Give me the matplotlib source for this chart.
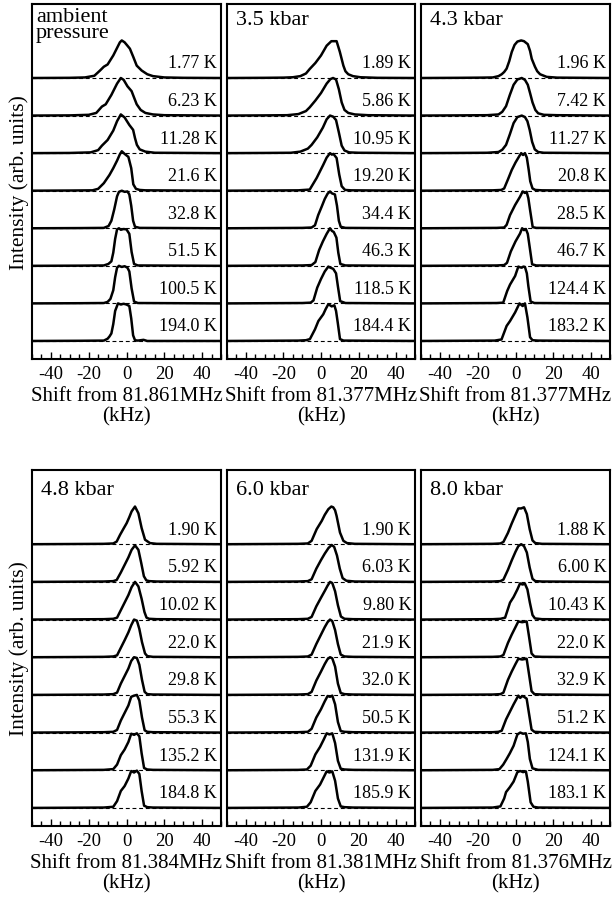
import matplotlib
matplotlib.use("Agg")
import matplotlib.pyplot as plt
from matplotlib.ticker import MultipleLocator

plt.rcParams['font.family'] = ['Liberation Serif', 'DejaVu Serif']
plt.rcParams['axes.unicode_minus'] = False

# ---------------- data (shift in kHz, intensity normalised to the stack spacing) -------------
AMB_TITLE = "ambient\npressure"
AMB_XLABEL = "Shift from 81.861MHz\n(kHz)"
AMB_TEMPS = ["1.77 K", "6.23 K", "11.28 K", "21.6 K", "32.8 K", "51.5 K", "100.5 K", "194.0 K"]
AMB_SHIFT = [
    [-50, -30, -22, -17, -14, -12, -10, -7, -5, -3.5, -2.5, -1, 0.5, 1.8, 3.6, 5.4, 8, 11, 14, 20, 30, 50],
    [-50, -30, -20, -16, -13, -11, -8, -5, -3, -1.5, 0.5, 2.7, 4, 5.4, 7.5, 10, 14, 20, 50],
    [-50, -30, -19, -15, -13, -10, -7, -5, -3, -1, 1.5, 3.5, 4.5, 5.5, 7, 10, 15, 50],
    [-50, -30, -18, -15, -12, -9, -7, -5, -3.5, -2.5, -1, 1, 2.5, 3.6, 5, 7, 10, 50],
    [-50, -25, -12, -9.5, -8, -6.5, -5, -4, -2.5, -1, 0.5, 1.5, 2.5, 3.5, 4.5, 7, 50],
    [-50, -25, -12, -9.6, -8, -7, -6, -5, -4, -3, -1.5, 0, 1.5, 2.7, 4, 6, 50],
    [-50, -25, -12, -10, -8.5, -7, -6, -5, -4, -2.5, -1, 0.5, 1.5, 2.7, 4, 6, 50],
    [-50, -25, -12, -10, -9, -8, -7, -6, -4.5, -3, -1.5, 0, 1.5, 2.5, 3.5, 4.5, 6, 9, 11, 50],
]
AMB_INT = [
    [0, 0.005, 0.015, 0.06, 0.2, 0.3, 0.36, 0.6, 0.8, 0.95, 1.0, 0.95, 0.86, 0.78, 0.56, 0.33, 0.2, 0.1, 0.05, 0.015, 0.005, 0],
    [0, 0.005, 0.02, 0.07, 0.24, 0.3, 0.55, 0.85, 1.0, 0.95, 0.78, 0.65, 0.48, 0.3, 0.15, 0.07, 0.03, 0.01, 0],
    [0, 0.005, 0.02, 0.08, 0.2, 0.35, 0.6, 0.85, 1.03, 0.95, 0.75, 0.62, 0.4, 0.22, 0.1, 0.04, 0.01, 0],
    [0, 0.005, 0.01, 0.05, 0.2, 0.42, 0.6, 0.8, 0.97, 1.05, 0.98, 0.9, 0.6, 0.17, 0.05, 0.02, 0.01, 0],
    [0, 0.005, 0.01, 0.06, 0.2, 0.5, 0.85, 0.97, 1.0, 0.97, 0.98, 0.9, 0.6, 0.2, 0.04, 0.01, 0],
    [0, 0.005, 0.01, 0.05, 0.12, 0.35, 0.72, 0.97, 1.0, 0.96, 0.98, 0.97, 0.85, 0.37, 0.05, 0.01, 0],
    [0, 0.005, 0.01, 0.04, 0.12, 0.35, 0.7, 0.95, 1.0, 0.97, 0.99, 0.95, 0.85, 0.4, 0.05, 0.01, 0],
    [0, 0.005, 0.01, 0.06, 0.12, 0.2, 0.45, 0.8, 1.0, 0.97, 0.99, 0.97, 0.93, 0.6, 0.15, 0.02, 0.01, 0.03, 0.0, 0],
]

P35_TITLE = "3.5 kbar"
P35_XLABEL = "Shift from 81.377MHz\n(kHz)"
P35_TEMPS = ["1.89 K", "5.86 K", "10.95 K", "19.20 K", "34.4 K", "46.3 K", "118.5 K", "184.4 K"]
P35_SHIFT = [
    [-50, -30, -20, -15, -11, -8, -6, -3, 0, 3, 5.5, 8.3, 10, 11.9, 13, 14.5, 17, 21, 30, 50],
    [-50, -30, -18, -12, -8, -6, -3, 0, 3, 5, 6.4, 8, 9.5, 11, 12.5, 14.5, 18, 25, 50],
    [-50, -30, -16, -11, -7, -5, -2, 1, 3, 4.8, 6.5, 8, 9.5, 11, 12.5, 15, 20, 50],
    [-50, -30, -12, -6, -2.3, 1.2, 3, 4.8, 5.8, 6.6, 8.3, 9.7, 11, 12.8, 16, 50],
    [-50, -30, -10, -5, -3.2, -1.5, 0.4, 2, 3.5, 4.8, 5.8, 7.4, 8.5, 9.5, 10.5, 13, 50],
    [-50, -30, -10, -5, -3, -1, 1, 3, 4.8, 5.8, 6.8, 8.2, 9.2, 10.3, 13, 50],
    [-50, -30, -10, -5.5, -4, -2, 0, 2, 3.9, 5, 6.5, 8, 9, 10.2, 13, 50],
    [-50, -30, -12, -8, -5.9, -3.2, -1.4, 1.2, 2.5, 3.9, 5.7, 7.1, 8, 8.9, 10.1, 12, 50],
]
P35_INT = [
    [0, 0.005, 0.01, 0.02, 0.05, 0.12, 0.24, 0.4, 0.6, 0.86, 0.98, 0.98, 0.7, 0.33, 0.18, 0.1, 0.05, 0.02, 0.005, 0],
    [0, 0.005, 0.01, 0.04, 0.12, 0.22, 0.4, 0.6, 0.85, 0.97, 1.0, 0.96, 0.7, 0.35, 0.15, 0.07, 0.03, 0.01, 0],
    [0, 0.005, 0.01, 0.04, 0.12, 0.22, 0.42, 0.68, 0.9, 1.0, 0.97, 0.88, 0.55, 0.2, 0.07, 0.02, 0.01, 0],
    [0, 0.005, 0.01, 0.03, 0.34, 0.69, 0.88, 1.0, 0.96, 0.98, 0.87, 0.43, 0.12, 0.02, 0.01, 0],
    [0, 0.005, 0.01, 0.02, 0.08, 0.35, 0.58, 0.78, 0.92, 0.98, 0.93, 0.9, 0.6, 0.2, 0.04, 0.01, 0],
    [0, 0.005, 0.01, 0.02, 0.1, 0.42, 0.65, 0.85, 1.0, 0.93, 0.9, 0.75, 0.35, 0.05, 0.01, 0],
    [0, 0.005, 0.01, 0.02, 0.08, 0.42, 0.65, 0.85, 0.98, 0.95, 0.92, 0.8, 0.45, 0.06, 0.01, 0],
    [0, 0.005, 0.01, 0.02, 0.05, 0.31, 0.53, 0.71, 0.85, 0.98, 0.92, 0.95, 0.8, 0.49, 0.05, 0.01, 0],
]

P43_TITLE = "4.3 kbar"
P43_XLABEL = "Shift from 81.377MHz\n(kHz)"
P43_TEMPS = ["1.96 K", "7.42 K", "11.27 K", "20.8 K", "28.5 K", "46.7 K", "124.4 K", "183.2 K"]
P43_SHIFT = [
    [-50, -30, -18, -12, -9, -7.3, -6, -4.7, -3.3, -2, -0.5, 1, 3, 4.5, 6.5, 7.7, 8.6, 10.3, 11.5, 13, 16.5, 22, 50],
    [-50, -30, -15, -9, -7, -5, -3, -1, 1, 3.3, 5, 6.5, 7.7, 9, 10.5, 12, 15, 22, 50],
    [-50, -30, -15, -9, -7, -5, -3, -1, 1, 3.3, 5, 6.3, 7.5, 8.8, 10.2, 12, 15, 50],
    [-50, -30, -12, -7.5, -6, -4, -2, 0, 2, 3, 4, 5, 6, 7, 7.8, 9, 10.5, 14, 50],
    [-50, -30, -10, -6, -4.7, -2.9, -0.2, 2.4, 3.8, 5, 5.9, 6.8, 7.7, 9.1, 11, 50],
    [-50, -30, -10, -6, -4.5, -2.5, 0, 2.4, 3.5, 4.5, 5.5, 6.5, 7.5, 8.8, 11, 50],
    [-50, -30, -10, -6.5, -4.4, -2.9, -0.2, 1.5, 2.5, 3.3, 4.2, 5, 6, 6.8, 8, 10, 50],
    [-50, -30, -11, -7.4, -4.7, -2.9, -0.2, 2.1, 3.8, 5, 6.3, 7.7, 9, 12, 50],
]
P43_INT = [
    [0, 0.005, 0.01, 0.015, 0.05, 0.1, 0.16, 0.25, 0.45, 0.69, 0.88, 0.97, 1.0, 0.98, 0.9, 0.72, 0.51, 0.3, 0.18, 0.1, 0.03, 0.01, 0],
    [0, 0.005, 0.01, 0.03, 0.1, 0.25, 0.55, 0.82, 0.96, 1.0, 0.95, 0.82, 0.6, 0.35, 0.15, 0.06, 0.02, 0.01, 0],
    [0, 0.005, 0.01, 0.03, 0.09, 0.22, 0.5, 0.8, 0.96, 1.0, 0.96, 0.85, 0.62, 0.3, 0.1, 0.03, 0.01, 0],
    [0, 0.005, 0.01, 0.02, 0.06, 0.3, 0.55, 0.75, 0.92, 1.0, 0.95, 1.0, 0.88, 0.55, 0.25, 0.06, 0.02, 0.01, 0],
    [0, 0.005, 0.01, 0.02, 0.09, 0.35, 0.62, 0.84, 0.98, 0.94, 0.97, 0.8, 0.49, 0.03, 0.01, 0],
    [0, 0.005, 0.01, 0.02, 0.08, 0.38, 0.65, 0.86, 1.0, 0.95, 0.98, 0.85, 0.5, 0.04, 0.01, 0],
    [0, 0.005, 0.01, 0.02, 0.33, 0.5, 0.73, 0.98, 0.96, 0.95, 0.98, 0.97, 0.8, 0.46, 0.05, 0.01, 0],
    [0, 0.005, 0.01, 0.04, 0.4, 0.53, 0.76, 1.0, 0.93, 1.0, 0.63, 0.1, 0.02, 0.01, 0],
]

P48_TITLE = "4.8 kbar"
P48_XLABEL = "Shift from 81.384MHz\n(kHz)"
P48_TEMPS = ["1.90 K", "5.92 K", "10.02 K", "22.0 K", "29.8 K", "55.3 K", "135.2 K", "184.8 K"]
P48_SHIFT = [
    [-50, -30, -12, -7, -5.2, -3.4, -1.5, 0.1, 1.5, 2.7, 4.5, 6.3, 8, 9.8, 12.4, 16, 50],
    [-50, -30, -12, -7, -5.2, -3, -1, 1, 2.7, 4.5, 6.3, 7.8, 9.2, 10.5, 12, 16, 50],
    [-50, -30, -12, -7, -5, -3, -1, 1, 2.7, 4.5, 6.3, 8, 9.5, 10.6, 12, 16, 50],
    [-50, -30, -12, -7, -5, -3, -1, 1, 2.5, 4, 5.5, 6.8, 8.2, 9.8, 11, 14, 50],
    [-50, -30, -12, -7, -5, -3, -1, 1, 2.5, 4, 5.5, 6.8, 8.2, 9.6, 11, 14, 50],
    [-50, -30, -12, -7, -5, -3, -1, 1, 2.5, 4, 5.5, 6.8, 8.2, 9.6, 11, 14, 50],
    [-50, -30, -12, -7, -5, -3, -1, 1, 2.5, 4, 5.5, 6.8, 8, 9.3, 11, 14, 50],
    [-50, -30, -12, -7, -5, -3, -1, 1, 2.5, 4, 5.5, 6.8, 8, 9.3, 11, 14, 50],
]
P48_INT = [
    [0, 0.005, 0.01, 0.02, 0.07, 0.25, 0.42, 0.56, 0.72, 0.87, 1.0, 0.82, 0.43, 0.12, 0.03, 0.01, 0],
    [0, 0.005, 0.01, 0.02, 0.05, 0.25, 0.45, 0.65, 0.85, 0.97, 0.85, 0.5, 0.15, 0.04, 0.02, 0.01, 0],
    [0, 0.005, 0.01, 0.02, 0.05, 0.25, 0.45, 0.65, 0.86, 1.0, 0.88, 0.55, 0.2, 0.05, 0.02, 0.01, 0],
    [0, 0.005, 0.01, 0.02, 0.05, 0.25, 0.45, 0.66, 0.85, 1.0, 0.97, 0.75, 0.4, 0.1, 0.03, 0.01, 0],
    [0, 0.005, 0.01, 0.02, 0.06, 0.3, 0.5, 0.7, 0.9, 1.0, 0.98, 0.8, 0.4, 0.08, 0.02, 0.01, 0],
    [0, 0.005, 0.01, 0.02, 0.07, 0.32, 0.52, 0.72, 0.95, 0.98, 1.0, 0.85, 0.4, 0.06, 0.02, 0.01, 0],
    [0, 0.005, 0.01, 0.03, 0.15, 0.4, 0.55, 0.75, 0.97, 0.94, 0.98, 0.9, 0.45, 0.06, 0.02, 0.01, 0],
    [0, 0.005, 0.01, 0.03, 0.18, 0.45, 0.58, 0.78, 0.98, 0.94, 0.99, 0.9, 0.45, 0.06, 0.02, 0.01, 0],
]

P60_TITLE = "6.0 kbar"
P60_XLABEL = "Shift from 81.381MHz\n(kHz)"
P60_TEMPS = ["1.90 K", "6.03 K", "9.80 K", "21.9 K", "32.0 K", "50.5 K", "131.9 K", "185.9 K"]
P60_SHIFT = [
    [-50, -30, -12, -7, -5, -2.3, 0.4, 2, 3.9, 5.5, 6.5, 7.5, 8.3, 10.1, 11.9, 13.8, 18, 50],
    [-50, -30, -12, -7, -5, -2.5, 0, 2, 4, 5.7, 7, 8.5, 10, 11.5, 13.5, 18, 50],
    [-50, -30, -12, -7, -5, -2.5, 0, 2, 3.5, 4.8, 6, 7.5, 9, 10.6, 12.5, 17, 50],
    [-50, -30, -12, -7, -5, -2.5, 0, 2, 3.5, 4.8, 6, 7.5, 9, 10.5, 12.5, 17, 50],
    [-50, -30, -12, -7, -5, -2.5, 0, 2, 3.5, 4.8, 6, 7.5, 9, 10.5, 12.5, 17, 50],
    [-50, -30, -12, -7, -5, -2.5, 0, 2, 3.5, 4.8, 6, 7.5, 9, 10.5, 12.5, 17, 50],
    [-50, -30, -12, -7.5, -5.5, -3, -0.5, 1.5, 3, 4.5, 6, 7.5, 9, 10.5, 12.5, 17, 50],
    [-50, -30, -12, -7.5, -5.5, -3, -0.5, 1.5, 3, 4.5, 6, 7.5, 9, 10.5, 12.5, 17, 50],
]
P60_INT = [
    [0, 0.005, 0.01, 0.02, 0.09, 0.4, 0.62, 0.78, 0.93, 1.0, 0.98, 0.9, 0.75, 0.31, 0.09, 0.03, 0.01, 0],
    [0, 0.005, 0.01, 0.02, 0.07, 0.35, 0.58, 0.75, 0.9, 0.98, 0.93, 0.7, 0.35, 0.1, 0.03, 0.01, 0],
    [0, 0.005, 0.01, 0.02, 0.07, 0.35, 0.58, 0.76, 0.9, 1.0, 0.97, 0.75, 0.38, 0.08, 0.02, 0.01, 0],
    [0, 0.005, 0.01, 0.02, 0.07, 0.35, 0.6, 0.8, 0.93, 1.0, 0.96, 0.72, 0.35, 0.07, 0.02, 0.01, 0],
    [0, 0.005, 0.01, 0.02, 0.08, 0.38, 0.62, 0.82, 0.95, 1.0, 0.97, 0.75, 0.3, 0.05, 0.02, 0.01, 0],
    [0, 0.005, 0.01, 0.02, 0.1, 0.4, 0.62, 0.83, 0.97, 0.95, 0.98, 0.75, 0.28, 0.04, 0.02, 0.01, 0],
    [0, 0.005, 0.01, 0.02, 0.12, 0.42, 0.62, 0.82, 0.98, 0.95, 0.98, 0.72, 0.25, 0.04, 0.02, 0.01, 0],
    [0, 0.005, 0.01, 0.03, 0.15, 0.45, 0.62, 0.82, 0.97, 0.94, 0.97, 0.72, 0.25, 0.04, 0.02, 0.01, 0],
]

P80_TITLE = "8.0 kbar"
P80_XLABEL = "Shift from 81.376MHz\n(kHz)"
P80_TEMPS = ["1.88 K", "6.00 K", "10.43 K", "22.0 K", "32.9 K", "51.2 K", "124.1 K", "183.1 K"]
P80_SHIFT = [
    [-50, -30, -12, -8, -6.4, -4, -2, 0, 1.5, 3, 4.5, 6, 7.5, 9, 10.5, 14, 50],
    [-50, -30, -12, -8, -6.4, -4, -2, 0, 1.5, 3, 4.5, 6, 7.5, 9, 10.5, 14, 50],
    [-50, -30, -12, -8, -5.5, -2.9, -1, 1, 2.4, 3.7, 5, 6.3, 7.6, 9, 10.3, 14, 50],
    [-50, -30, -12, -8, -6.4, -4, -2, 0, 1.5, 3.5, 5.9, 7, 8.5, 10, 14, 50],
    [-50, -30, -12, -8, -6.4, -4, -2, 0, 1.5, 3.5, 5.9, 7, 8.5, 10, 14, 50],
    [-50, -30, -12, -9, -7.3, -5, -3, -1, 1.5, 2.5, 3.5, 4.5, 5.9, 7, 8.5, 10, 14, 50],
    [-50, -30, -12, -8.5, -6.5, -4.7, -3, -1, 1, 2.5, 4, 5.5, 6.5, 7.6, 9, 12, 50],
    [-50, -30, -12, -8, -6, -5, -3, -1, 1, 2.5, 4, 5.5, 6.5, 8, 9.5, 12, 50],
]
P80_INT = [
    [0, 0.005, 0.01, 0.02, 0.06, 0.3, 0.55, 0.78, 0.95, 0.95, 0.98, 0.8, 0.4, 0.1, 0.03, 0.01, 0],
    [0, 0.005, 0.01, 0.02, 0.06, 0.32, 0.57, 0.8, 0.95, 1.0, 0.95, 0.78, 0.38, 0.08, 0.02, 0.01, 0],
    [0, 0.005, 0.01, 0.02, 0.05, 0.45, 0.6, 0.8, 0.96, 0.93, 0.95, 0.8, 0.45, 0.12, 0.03, 0.01, 0],
    [0, 0.005, 0.01, 0.02, 0.06, 0.38, 0.6, 0.8, 0.95, 0.93, 0.95, 0.6, 0.1, 0.02, 0.01, 0],
    [0, 0.005, 0.01, 0.02, 0.06, 0.4, 0.62, 0.82, 0.96, 0.94, 0.96, 0.6, 0.1, 0.02, 0.01, 0],
    [0, 0.005, 0.01, 0.02, 0.05, 0.35, 0.55, 0.75, 0.98, 0.92, 0.97, 0.95, 0.9, 0.55, 0.08, 0.02, 0.01, 0],
    [0, 0.005, 0.01, 0.03, 0.15, 0.3, 0.45, 0.65, 0.95, 1.0, 0.97, 0.98, 0.75, 0.3, 0.05, 0.01, 0],
    [0, 0.005, 0.01, 0.04, 0.25, 0.42, 0.55, 0.7, 0.95, 0.98, 0.95, 0.97, 0.7, 0.15, 0.03, 0.01, 0],
]

YLABEL = "Intensity (arb. units)"
X_RANGE = (-50, 50)

PANELS = [
    (AMB_TITLE, AMB_XLABEL, AMB_TEMPS, AMB_SHIFT, AMB_INT),
    (P35_TITLE, P35_XLABEL, P35_TEMPS, P35_SHIFT, P35_INT),
    (P43_TITLE, P43_XLABEL, P43_TEMPS, P43_SHIFT, P43_INT),
    (P48_TITLE, P48_XLABEL, P48_TEMPS, P48_SHIFT, P48_INT),
    (P60_TITLE, P60_XLABEL, P60_TEMPS, P60_SHIFT, P60_INT),
    (P80_TITLE, P80_XLABEL, P80_TEMPS, P80_SHIFT, P80_INT),
]

# ---------------- layout ----------------
W, H = 615, 903
fig = plt.figure(figsize=(W / 100, H / 100), dpi=100)
col_x = [32, 227, 421]
col_w = [189, 188, 189]
row_y = [(5, 360), (471, 827)]
title_drop = [10, 14]   # px from the top frame to the cap height of the panel title

for k, (title, xlabel, temps, shifts, ints) in enumerate(PANELS):
    r, c = divmod(k, 3)
    top, bot = row_y[r]
    hpx = bot - top
    ax = fig.add_axes([col_x[c] / W, 1 - bot / H, col_w[c] / W, hpx / H])
    n = len(temps)
    for i in range(n):
        off = n - 1 - i
        ax.axhline(off, color='black', lw=0.8, ls=(0, (3.5, 2.5)), zorder=1)
        ax.plot(shifts[i], [v + off for v in ints[i]], color='black', lw=1.8,
                solid_joinstyle='round', zorder=2)
        ax.text(48, off + 0.28, temps[i], ha='right', va='baseline', fontsize=13)
    ax.set_xlim(*X_RANGE)
    ax.set_ylim(-0.48, n - 1 + 1.97)
    ax.set_yticks([])
    ax.xaxis.set_major_locator(MultipleLocator(20))
    ax.xaxis.set_minor_locator(MultipleLocator(5))
    ax.tick_params(axis='x', which='major', direction='in', length=5, width=1.0,
                   labelsize=13.5, pad=4, top=False)
    ax.tick_params(axis='x', which='minor', direction='in', length=3.5, width=1.0, top=False)
    for s in ax.spines.values():
        s.set_linewidth(1.5)
    ax.set_xlabel(xlabel, fontsize=15, linespacing=1.1, labelpad=3)
    if c == 0:
        ax.set_ylabel(YLABEL, fontsize=15.5, labelpad=2)
    if "\n" in title:
        ax.text(0.022, 1 - 3 / hpx, title, transform=ax.transAxes, ha='left', va='top',
                fontsize=16, linespacing=0.78)
    else:
        ax.text(0.048, 1 - (title_drop[r] - 4) / hpx, title, transform=ax.transAxes,
                ha='left', va='top', fontsize=16)

fig.savefig("out.png", dpi=100)
